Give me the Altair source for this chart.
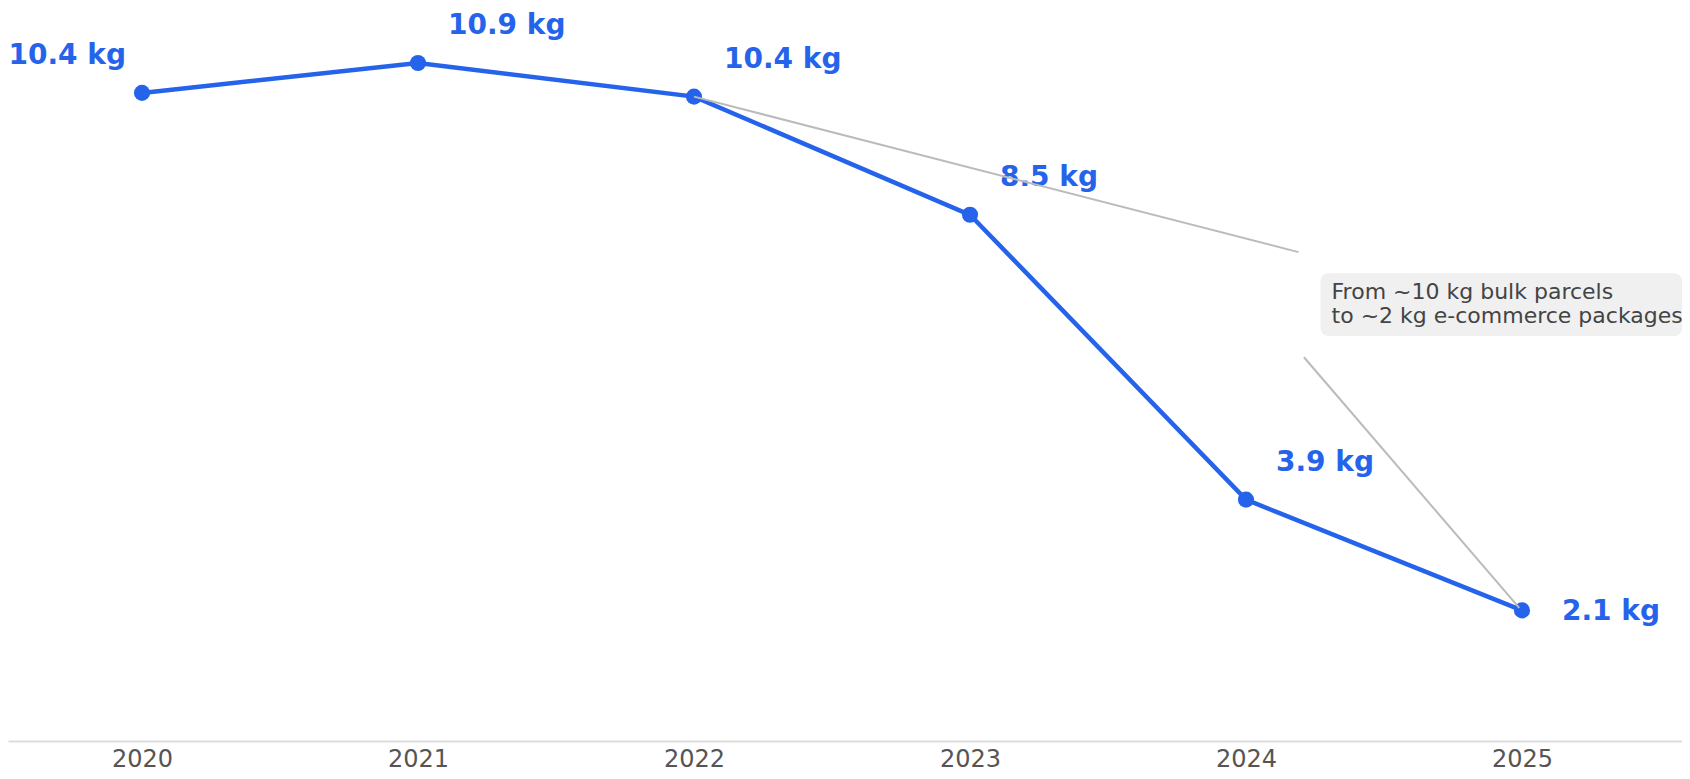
import altair as alt
import pandas as pd

# ---- data ----
years = [2020, 2021, 2022, 2023, 2024, 2025]
weights = [10.42, 10.9, 10.36, 8.46, 3.88, 2.1]

# annotation anchors (data units)
note_lines = ["From ~10 kg bulk parcels", "to ~2 kg e-commerce packages"]
conn_x = [2022.0, 2024.21]
conn_x2 = [2024.19, 2024.99]
conn_y = [10.36, 6.17]
conn_y2 = [7.86, 2.14]
box_x = [2024.27]
box_x2 = [2025.58]
box_y = [6.51]
box_y2 = [7.52]
note_x = [2024.31]
note_y = [7.22]

BLUE = "#2563eb"
FONT = "DejaVu Sans"

df = pd.DataFrame({"year": years, "weight": weights})
df["label"] = [f"{w:.1f} kg" for w in weights]

conn_df = pd.DataFrame({"x": conn_x, "x2": conn_x2, "y": conn_y, "y2": conn_y2})
box_df = pd.DataFrame({"x": box_x, "x2": box_x2, "y": box_y, "y2": box_y2})
note_df = pd.DataFrame({"x": note_x, "y": note_y, "t": ["\n".join(note_lines)]})

xscale = alt.Scale(domain=[2019.5145, 2025.5797], nice=False, zero=False)
yscale = alt.Scale(domain=[0, 11.785], nice=False, zero=False)

x_enc = alt.X(
    "year:Q",
    scale=xscale,
    axis=alt.Axis(
        values=years,
        format="d",
        title=None,
        ticks=False,
        grid=False,
        domainColor="#dddddd",
        domainWidth=2,
        labelFontSize=24,
        labelColor="#555555",
        labelFont=FONT,
        labelPadding=6,
        labelFlush=False,
        labelOverlap=False,
    ),
)
y_enc = alt.Y("weight:Q", scale=yscale, axis=None)

base = alt.Chart(df).encode(x=x_enc, y=y_enc)

line = base.mark_line(color=BLUE, strokeWidth=4.5)
points = base.mark_circle(color=BLUE, size=260, opacity=1)

label_style = dict(fontSize=28, fontWeight="bold", font=FONT, color=BLUE, baseline="middle")

lab_first = base.transform_filter("datum.year == 2020").mark_text(
    align="right", dx=-16, dy=-37, **label_style
).encode(text="label:N")
lab_mid = base.transform_filter("datum.year > 2020 && datum.year < 2025").mark_text(
    align="left", dx=30, dy=-37, **label_style
).encode(text="label:N")
lab_last = base.transform_filter("datum.year == 2025").mark_text(
    align="left", dx=40, dy=2, **label_style
).encode(text="label:N")

connectors = alt.Chart(conn_df).mark_rule(color="#bbbbbb", strokeWidth=2).encode(
    x=alt.X("x:Q", scale=xscale), x2="x2:Q",
    y=alt.Y("y:Q", scale=yscale), y2="y2:Q",
)
box = alt.Chart(box_df).mark_rect(color="#f0f0f0", cornerRadius=8).encode(
    x=alt.X("x:Q", scale=xscale), x2="x2:Q",
    y=alt.Y("y:Q", scale=yscale), y2="y2:Q",
)
note = alt.Chart(note_df).mark_text(
    align="left", baseline="middle", fontSize=22, lineHeight=24,
    font=FONT, color="#444444", lineBreak="\n",
).encode(
    x=alt.X("x:Q", scale=xscale),
    y=alt.Y("y:Q", scale=yscale),
    text="t:N",
)

chart = alt.layer(
    line, points, lab_first, lab_mid, lab_last, connectors, box, note
).properties(
    width=1674,
    height=733,
    background="white",
    autosize=alt.AutoSizeParams(type="none"),
    padding={"left": 0, "top": 0, "right": 0, "bottom": 30},
).configure_view(stroke=None)

chart.save("out.html", embed_options={"renderer": "svg", "actions": False})
